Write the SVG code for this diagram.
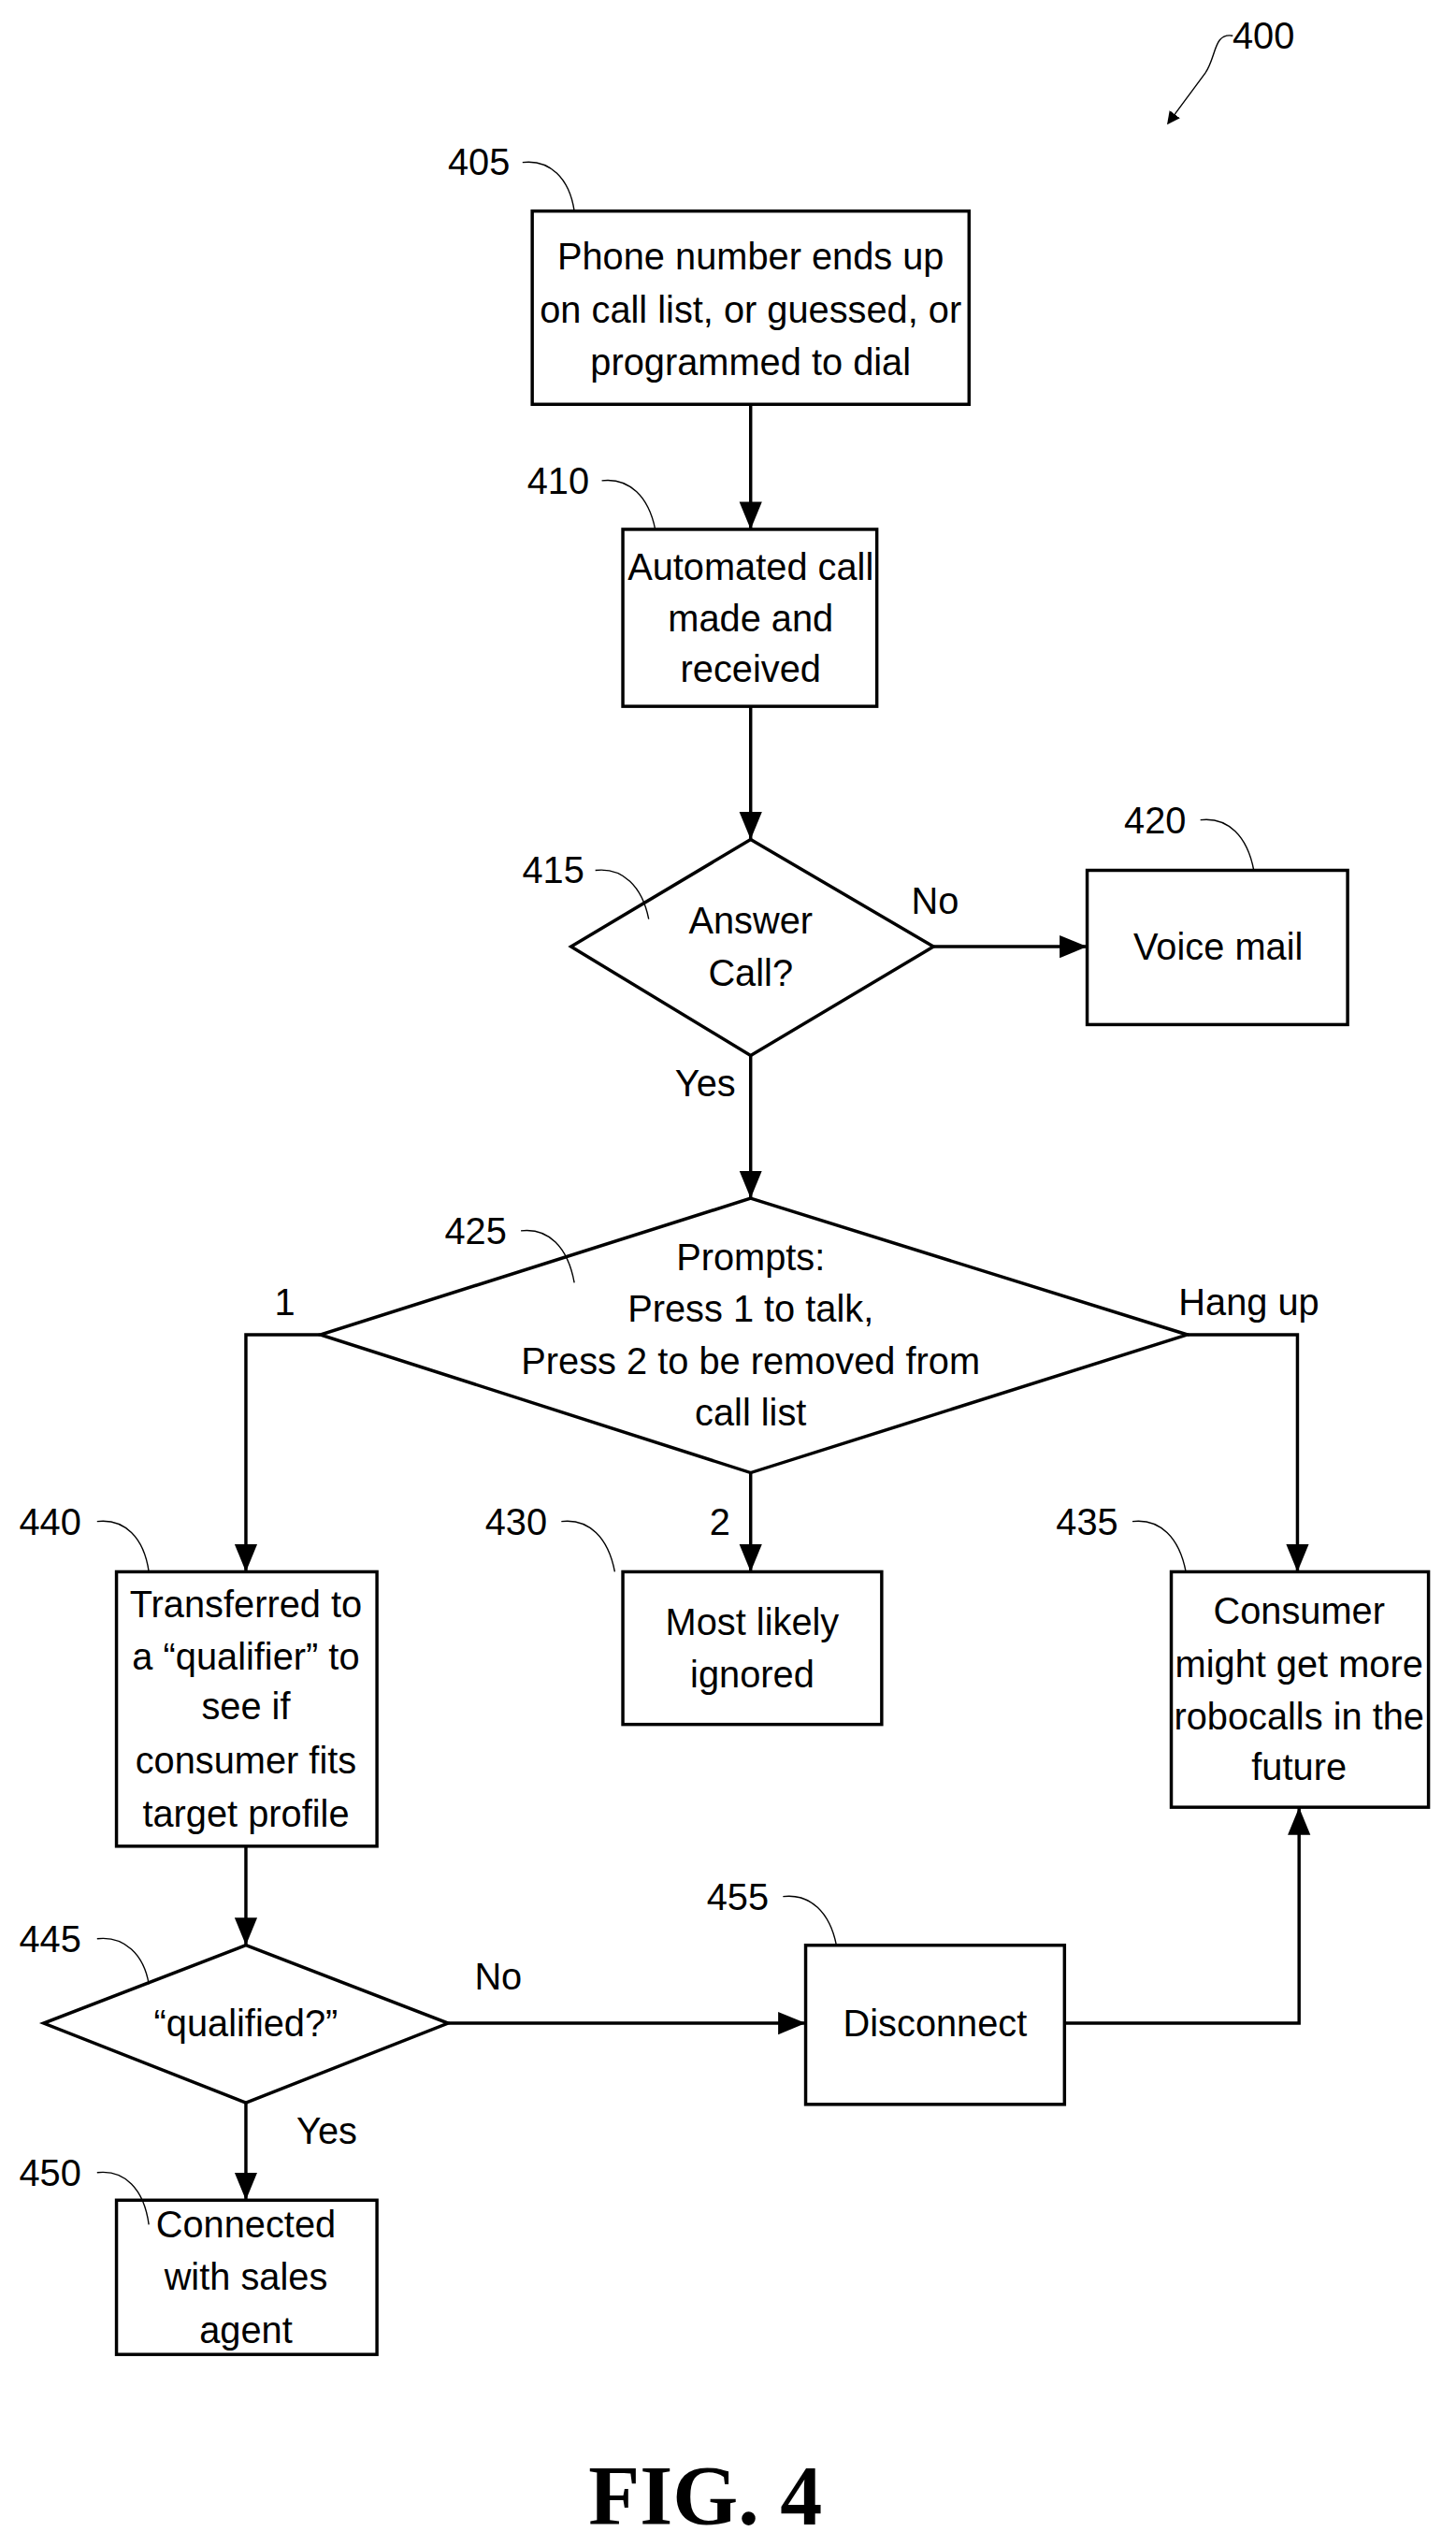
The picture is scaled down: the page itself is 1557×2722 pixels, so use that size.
<svg xmlns="http://www.w3.org/2000/svg" width="1557" height="2722" viewBox="0 0 1557 2722">
<style>
.b{fill:#fff;stroke:#000;stroke-width:2}
.t{font-family:"Liberation Sans Narrow","Liberation Sans",Arial,sans-serif;font-size:23px;text-anchor:middle;fill:#000}
.l{font-family:"Liberation Sans Narrow","Liberation Sans",Arial,sans-serif;font-size:23px;text-anchor:middle;fill:#000}
.c{fill:none;stroke:#000;stroke-width:2}
.k{fill:none;stroke:#000;stroke-width:0.8}
</style>
<defs>
<marker id="a" markerWidth="8" markerHeight="8" refX="7" refY="4" orient="auto" markerUnits="userSpaceOnUse"><path d="M0,0 L8,4 L0,8 Z" fill="#000"/></marker>
<marker id="a2" markerWidth="18" markerHeight="18" refX="17" refY="9" orient="auto" markerUnits="userSpaceOnUse"><path d="M0,2 L17,9 L0,16 Z" fill="#000"/></marker>
</defs>
<rect width="1557" height="2722" fill="#fff"/>
<g transform="scale(1.73,1.736)">
<g id="connectors">
<path class="c" d="M464,249 V326" marker-end="url(#a2)"/>
<path class="c" d="M464,435 V517" marker-end="url(#a2)"/>
<path class="c" d="M577,583 H672" marker-end="url(#a2)"/>
<path class="c" d="M464,650 V738" marker-end="url(#a2)"/>
<path class="c" d="M198,822 H152 V968" marker-end="url(#a2)"/>
<path class="c" d="M734,822 H802 V968" marker-end="url(#a2)"/>
<path class="c" d="M464,907 V968" marker-end="url(#a2)"/>
<path class="c" d="M152,1137 V1198" marker-end="url(#a2)"/>
<path class="c" d="M277,1246 H498" marker-end="url(#a2)"/>
<path class="c" d="M658,1246 H803 V1113" marker-end="url(#a2)"/>
<path class="c" d="M152,1295 V1355" marker-end="url(#a2)"/>
<text class="l" x="578" y="563">No</text>
<text class="l" x="436" y="675">Yes</text>
<text class="l" x="176" y="810">1</text>
<text class="l" x="772" y="810">Hang up</text>
<text class="l" x="445" y="945">2</text>
<text class="l" x="308" y="1225">No</text>
<text class="l" x="202" y="1320">Yes</text>
</g>
<g id="n400"><text class="l" x="781" y="30">400</text><path class="k" d="M762,22 C750,20 752,35 745,45 L722,76" marker-end="url(#a)" stroke-width="1.2"/></g>
<g id="n405"><rect class="b" x="329" y="130" width="270" height="119"/><text class="t" x="464" y="166">Phone number ends up</text><text class="t" x="464" y="199">on call list, or guessed, or</text><text class="t" x="464" y="231">programmed to dial</text><text class="l" x="296" y="108">405</text><path class="k" d="M323,100 C340,98 352,110 355,130"/></g>
<g id="n410"><rect class="b" x="385" y="326" width="157" height="109"/><text class="t" x="464" y="357">Automated call</text><text class="t" x="464" y="389">made and</text><text class="t" x="464" y="420">received</text><text class="l" x="345" y="304">410</text><path class="k" d="M372,296 C389,294 401,306 405,326"/></g>
<g id="n415"><polygon class="b" points="464,517 577,583 464,650 353,583"/><text class="t" x="464" y="575">Answer</text><text class="t" x="464" y="607">Call?</text><text class="l" x="342" y="544">415</text><path class="k" d="M368,536 C385,534 397,546 401,566"/></g>
<g id="n420"><rect class="b" x="672" y="536" width="161" height="95"/><text class="t" x="753" y="591">Voice mail</text><text class="l" x="714" y="513">420</text><path class="k" d="M742,505 C759,503 771,515 775,536"/></g>
<g id="n425"><polygon class="b" points="464,738 734,822 464,907 198,822"/><text class="t" x="464" y="782">Prompts:</text><text class="t" x="464" y="814">Press 1 to talk,</text><text class="t" x="464" y="846">Press 2 to be removed from</text><text class="t" x="464" y="878">call list</text><text class="l" x="294" y="766">425</text><path class="k" d="M322,758 C339,756 351,768 355,790"/></g>
<g id="n430"><rect class="b" x="385" y="968" width="160" height="94"/><text class="t" x="465" y="1007">Most likely</text><text class="t" x="465" y="1039">ignored</text><text class="l" x="319" y="945">430</text><path class="k" d="M347,937 C364,935 376,947 380,968"/></g>
<g id="n435"><rect class="b" x="724" y="968" width="159" height="145"/><text class="t" x="803" y="1000">Consumer</text><text class="t" x="803" y="1033">might get more</text><text class="t" x="803" y="1065">robocalls in the</text><text class="t" x="803" y="1096">future</text><text class="l" x="672" y="945">435</text><path class="k" d="M700,937 C717,935 729,947 733,968"/></g>
<g id="n440"><rect class="b" x="72" y="968" width="161" height="169"/><text class="t" x="152" y="996">Transferred to</text><text class="t" x="152" y="1028">a “qualifier” to</text><text class="t" x="152" y="1059">see if</text><text class="t" x="152" y="1092">consumer fits</text><text class="t" x="152" y="1125">target profile</text><text class="l" x="31" y="945">440</text><path class="k" d="M60,937 C77,935 89,947 92,968"/></g>
<g id="n445"><polygon class="b" points="152,1198 277,1246 152,1295 27,1246"/><text class="t" x="152" y="1254">“qualified?”</text><text class="l" x="31" y="1202">445</text><path class="k" d="M60,1194 C77,1192 89,1204 92,1222"/></g>
<g id="n450"><rect class="b" x="72" y="1355" width="161" height="95"/><text class="t" x="152" y="1378">Connected</text><text class="t" x="152" y="1410">with sales</text><text class="t" x="152" y="1443">agent</text><text class="l" x="31" y="1346">450</text><path class="k" d="M60,1338 C77,1336 89,1348 92,1370"/></g>
<g id="n455"><rect class="b" x="498" y="1198" width="160" height="98"/><text class="t" x="578" y="1254">Disconnect</text><text class="l" x="456" y="1176">455</text><path class="k" d="M484,1168 C501,1166 513,1178 517,1198"/></g>
<g id="fig"><text x="436" y="1555" text-anchor="middle" font-family="Liberation Serif,serif" font-weight="bold" font-size="52">FIG. 4</text></g>
</g>
</svg>
